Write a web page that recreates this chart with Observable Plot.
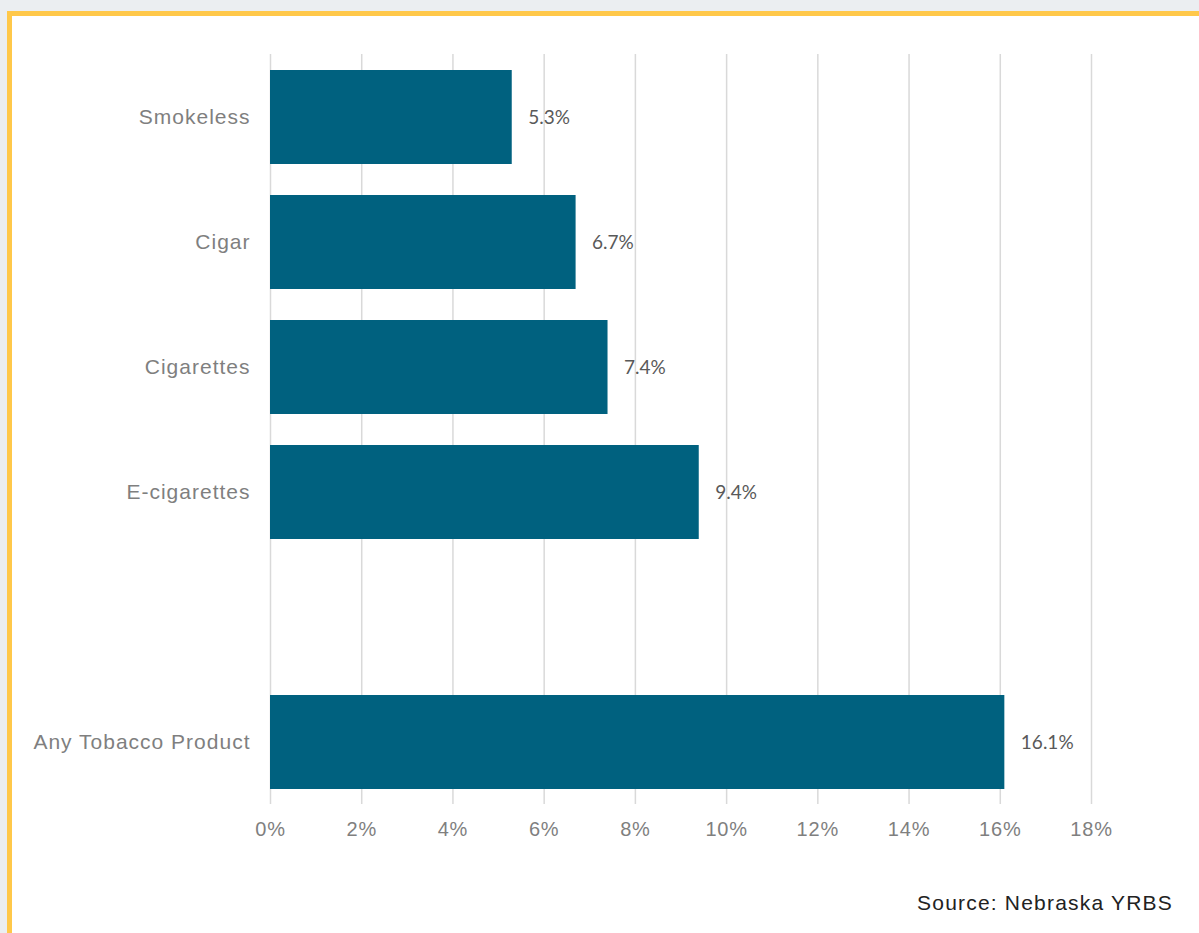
<!DOCTYPE html>
<html>
<head>
<meta charset="utf-8">
<script src="https://cdn.jsdelivr.net/npm/d3@7"></script>
<script src="https://cdn.jsdelivr.net/npm/@observablehq/plot@0.6"></script>
<style>
  html, body { margin: 0; padding: 0; width: 1199px; height: 933px; overflow: hidden; background: #EBEEF1; }
  #frame { position: absolute; left: 7px; top: 11px; right: -10px; bottom: -10px; background: #fff;
           border-left: 5px solid #FFC84A; border-top: 5px solid #FFC84A; }
  #chart { position: absolute; left: 0; top: 0; }
  #source { position: absolute; right: 26px; top: 892px; font: 21px "Liberation Sans", Arial, sans-serif;
            line-height: 1; letter-spacing: 1.2px; color: #222; }
</style>
</head>
<body>
<div id="frame"></div>
<div id="chart"></div>
<div id="source">Source: Nebraska YRBS</div>
<script>
// Data
const categories = ["Smokeless", "Cigar", "Cigarettes", "E-cigarettes", "Any Tobacco Product"];
const values = [5.3, 6.7, 7.4, 9.4, 16.1];
// Axis order (blank row before the total)
const axisOrder = ["Smokeless", "Cigar", "Cigarettes", "E-cigarettes", " ", "Any Tobacco Product"];
const xTicks = [0, 2, 4, 6, 8, 10, 12, 14, 16, 18];

const rows = categories.map((c, i) => ({category: c, value: values[i]}));

const chart = Plot.plot({
  width: 1199,
  height: 860,
  marginTop: 54,
  marginBottom: 56,
  marginLeft: 270,
  marginRight: 108,
  style: {background: "transparent", overflow: "visible"},
  x: {domain: [0, 18], ticks: xTicks, tickFormat: d => d + "%"},
  y: {domain: axisOrder, paddingInner: 0.25, paddingOuter: 0.125, align: 0.5},
  marks: [
    Plot.gridX(xTicks, {stroke: "#d9d9d9", strokeWidth: 1.5, strokeOpacity: 1}),
    Plot.barX(rows, {x: "value", y: "category", fill: "#00617F"}),
    Plot.text(rows, {
      x: "value", y: "category", text: d => d.value.toFixed(1) + "%",
      textAnchor: "start", dx: 16, fill: "#595959",
      fontFamily: "Lato, 'Noto Sans', sans-serif", fontSize: 19, style: "letter-spacing:1.1px"
    }),
    Plot.axisX(xTicks, {
      tickSize: 0, tickPadding: 17, tickFormat: d => d + "%", label: null,
      fill: "#7f7f7f", fontSize: 20, fontFamily: "'Liberation Sans', Arial, sans-serif"
    }),
    Plot.axisY({
      tickSize: 0, tickPadding: 20, label: null,
      fill: "#7f7f7f", fontSize: 21, fontFamily: "'Liberation Sans', Arial, sans-serif"
    })
  ]
});
chart.querySelectorAll("g[aria-label='y-axis tick label'] text").forEach(t => t.style.letterSpacing = "1px");
chart.querySelectorAll("g[aria-label='x-axis tick label'] text").forEach(t => t.style.letterSpacing = "0.8px");
document.getElementById("chart").appendChild(chart);
</script>
</body>
</html>
